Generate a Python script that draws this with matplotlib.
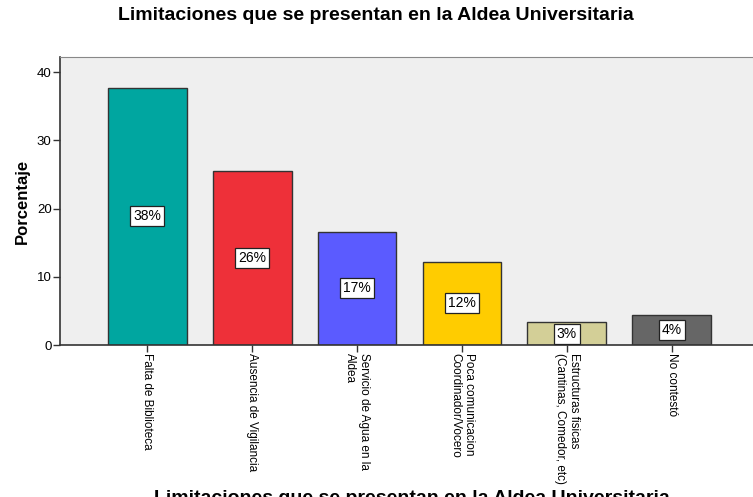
import numpy as np
import matplotlib
matplotlib.use('Agg')
import matplotlib.pyplot as plt

plt.rcParams['font.family'] = ['Liberation Sans', 'DejaVu Sans']

# Data
categories = [
    'Falta de Biblioteca',
    'Ausencia de Vigilancia',
    'Servicio de Agua en la\nAldea',
    'Poca comunicacion\nCoordinador/Vocero',
    'Estructuras fisicas\n(Cantinas, Comedor, etc)',
    'No contestó',
]
percent = [37.7, 25.5, 16.6, 12.2, 3.3, 4.4]
bar_labels = ['38%', '26%', '17%', '12%', '3%', '4%']
colors = ['#00A6A0', '#EE3039', '#5B5BFF', '#FFCC00', '#D3CF97', '#666666']

W, H = 753, 497
fig = plt.figure(figsize=(W / 100, H / 100), dpi=100)
ax = fig.add_axes([60 / W, (H - 345) / H, (759 - 60) / W, (345 - 57) / H])
ax.set_facecolor('#EFEFEF')

x = np.arange(len(categories))
ax.bar(x, percent, width=0.75, color=colors, edgecolor='#333333', linewidth=1.0, zorder=2)

# value boxes in the middle of each bar
for xi, v, lab in zip(x, percent, bar_labels):
    ax.text(xi, v / 2, lab, ha='center', va='center', fontsize=10, zorder=3,
            bbox=dict(boxstyle='square,pad=0.22', facecolor='white', edgecolor='#222222', linewidth=0.9))

ax.set_xlim(-0.833, len(categories) - 1 + 0.833)
ax.set_ylim(0, 42.2)
ax.set_yticks([0, 10, 20, 30, 40])
ax.set_xticks(x)
ax.set_xticklabels(categories, rotation=-90, ha='center', va='top',
                   rotation_mode='default', fontsize=8.5, multialignment='left')
ax.tick_params(axis='y', length=5, width=1, color='#333333', labelsize=9.5, pad=1)
ax.tick_params(axis='x', length=5, width=1, color='#333333', pad=1)

for s in ['left', 'bottom']:
    ax.spines[s].set_color('#333333')
    ax.spines[s].set_linewidth(1.2)
ax.spines['top'].set_color('#888888')
ax.spines['right'].set_visible(False)

ax.set_ylabel('Porcentaje', fontsize=12, fontweight='bold', labelpad=5)

fig.text(376 / W, 1 - 15 / H, 'Limitaciones que se presentan en la Aldea Universitaria',
         ha='center', va='center', fontsize=14, fontweight='bold')
fig.text(412 / W, 1 - 490 / H, 'Limitaciones que se presentan en la Aldea Universitaria',
         ha='center', va='top', fontsize=14, fontweight='bold')

fig.savefig('out.png', dpi=100)
